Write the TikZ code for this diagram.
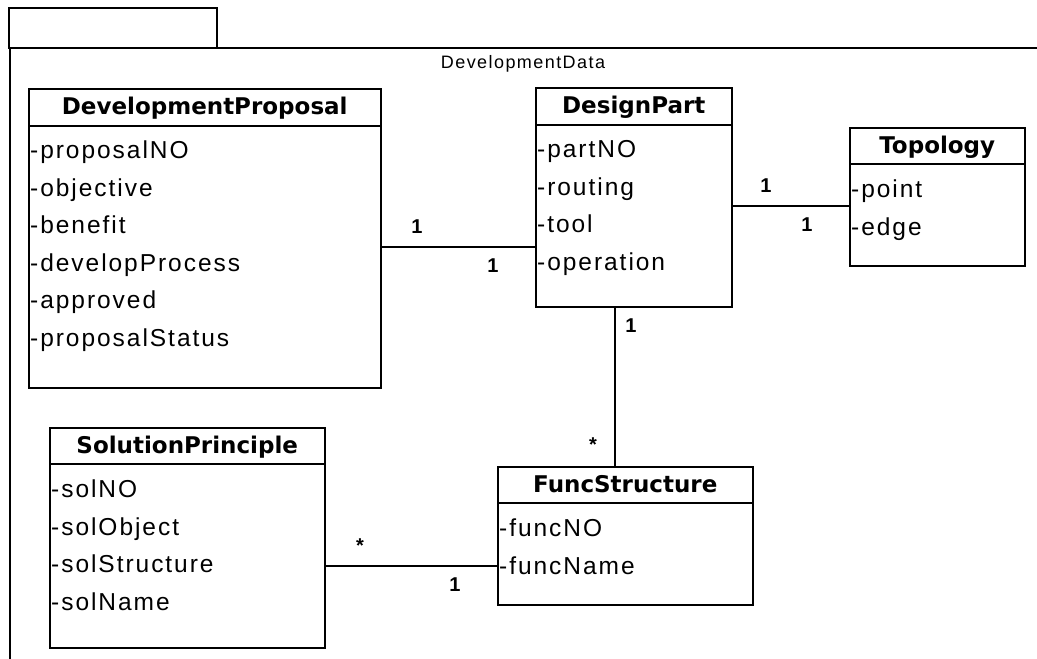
\documentclass[tikz,border=0pt]{standalone}
\usepackage{fontspec}
\setmainfont{Liberation Sans}
\newfontfamily\headfont{DejaVu Sans}
\newfontfamily\attrfont{Liberation Sans}[LetterSpace=8]
\usetikzlibrary{calc}

\tikzset{
  frameline/.style={line width=1.6pt},
  classbox/.style={draw, line width=1.5pt, anchor=north west, inner sep=0pt, fill=white},
  assoc/.style={line width=1.5pt},
  classhead/.style={anchor=mid, inner sep=0pt, font=\headfont\bfseries\fontsize{23}{27}\selectfont},
  attr/.style={anchor=mid west, inner sep=0pt, font=\attrfont\fontsize{24.5}{28}\selectfont},
  mult/.style={anchor=mid, inner sep=0pt, font=\bfseries\fontsize{20}{24}\selectfont},
  pkgtitle/.style={anchor=mid, inner sep=0pt, font=\attrfont\fontsize{18}{22}\selectfont}
}

% header rule and attribute list of a class box
\newcommand{\classrule}[2]{%
  \draw[line width=1.5pt] ([yshift=-#2pt]#1.north west) -- ([yshift=-#2pt]#1.north east);}
\newcommand{\attrlist}[2]{%
  \foreach \a [count=\i] in {#2}
    \node[attr] at ($(#1.north west)+(2,68+37.5*\i-37.5)$) {\a};}

\begin{document}
\begin{tikzpicture}[x=1pt,y=-1pt]
\useasboundingbox[fill=white] (0,0) rectangle (1037,659);

% package frame with tab
\coordinate (tabtl) at (9,8);
\coordinate (tabbr) at (217,48);
\draw[frameline] (tabtl) rectangle (tabbr);
\draw[frameline] (10,659) -- (10,48) -- (1037,48);
\node[pkgtitle] (pkgname) at (523,66) {DevelopmentData};

% classes
\node[classbox, minimum width=352pt, minimum height=299pt] (dp) at (28,88) {};
\classrule{dp}{38}
\node[classhead] at ($(dp.north)+(0,24)$) {DevelopmentProposal};
\attrlist{dp}{-proposalNO,-objective,-benefit,-developProcess,-approved,-proposalStatus}

\node[classbox, minimum width=196pt, minimum height=219pt] (part) at (535,87) {};
\classrule{part}{38}
\node[classhead] at ($(part.north)+(0,24)$) {DesignPart};
\attrlist{part}{-partNO,-routing,-tool,-operation}

\node[classbox, minimum width=175pt, minimum height=138pt] (topo) at (849,127) {};
\classrule{topo}{37}
\node[classhead] at ($(topo.north)+(0,24)$) {Topology};
\attrlist{topo}{-point,-edge}

\node[classbox, minimum width=255pt, minimum height=138pt] (func) at (497,466) {};
\classrule{func}{37}
\node[classhead] at ($(func.north)+(0,24)$) {FuncStructure};
\attrlist{func}{-funcNO,-funcName}

\node[classbox, minimum width=275pt, minimum height=220pt] (sol) at (49,427) {};
\classrule{sol}{37}
\node[classhead] at ($(sol.north)+(0,24)$) {SolutionPrinciple};
\attrlist{sol}{-solNO,-solObject,-solStructure,-solName}

% associations
\draw[assoc] (dp.east |- 0,247) -- (part.west |- 0,247);
\draw[assoc] (part.east |- 0,206) -- (topo.west |- 0,206);
\draw[assoc] (part.south -| 615,0) -- (func.north -| 615,0);
\draw[assoc] (sol.east |- 0,566) -- (func.west |- 0,566);

% multiplicities
\node[mult] (m1) at (417,231) {1};
\node[mult] (m2) at (493,270) {1};
\node[mult] (m3) at (766,190) {1};
\node[mult] (m4) at (807,229) {1};
\node[mult] (m5) at (631,330) {1};
\node[mult] (m6) at (593,449) {*};
\node[mult] (m7) at (360,550) {*};
\node[mult] (m8) at (455,589) {1};
\end{tikzpicture}
\end{document}
